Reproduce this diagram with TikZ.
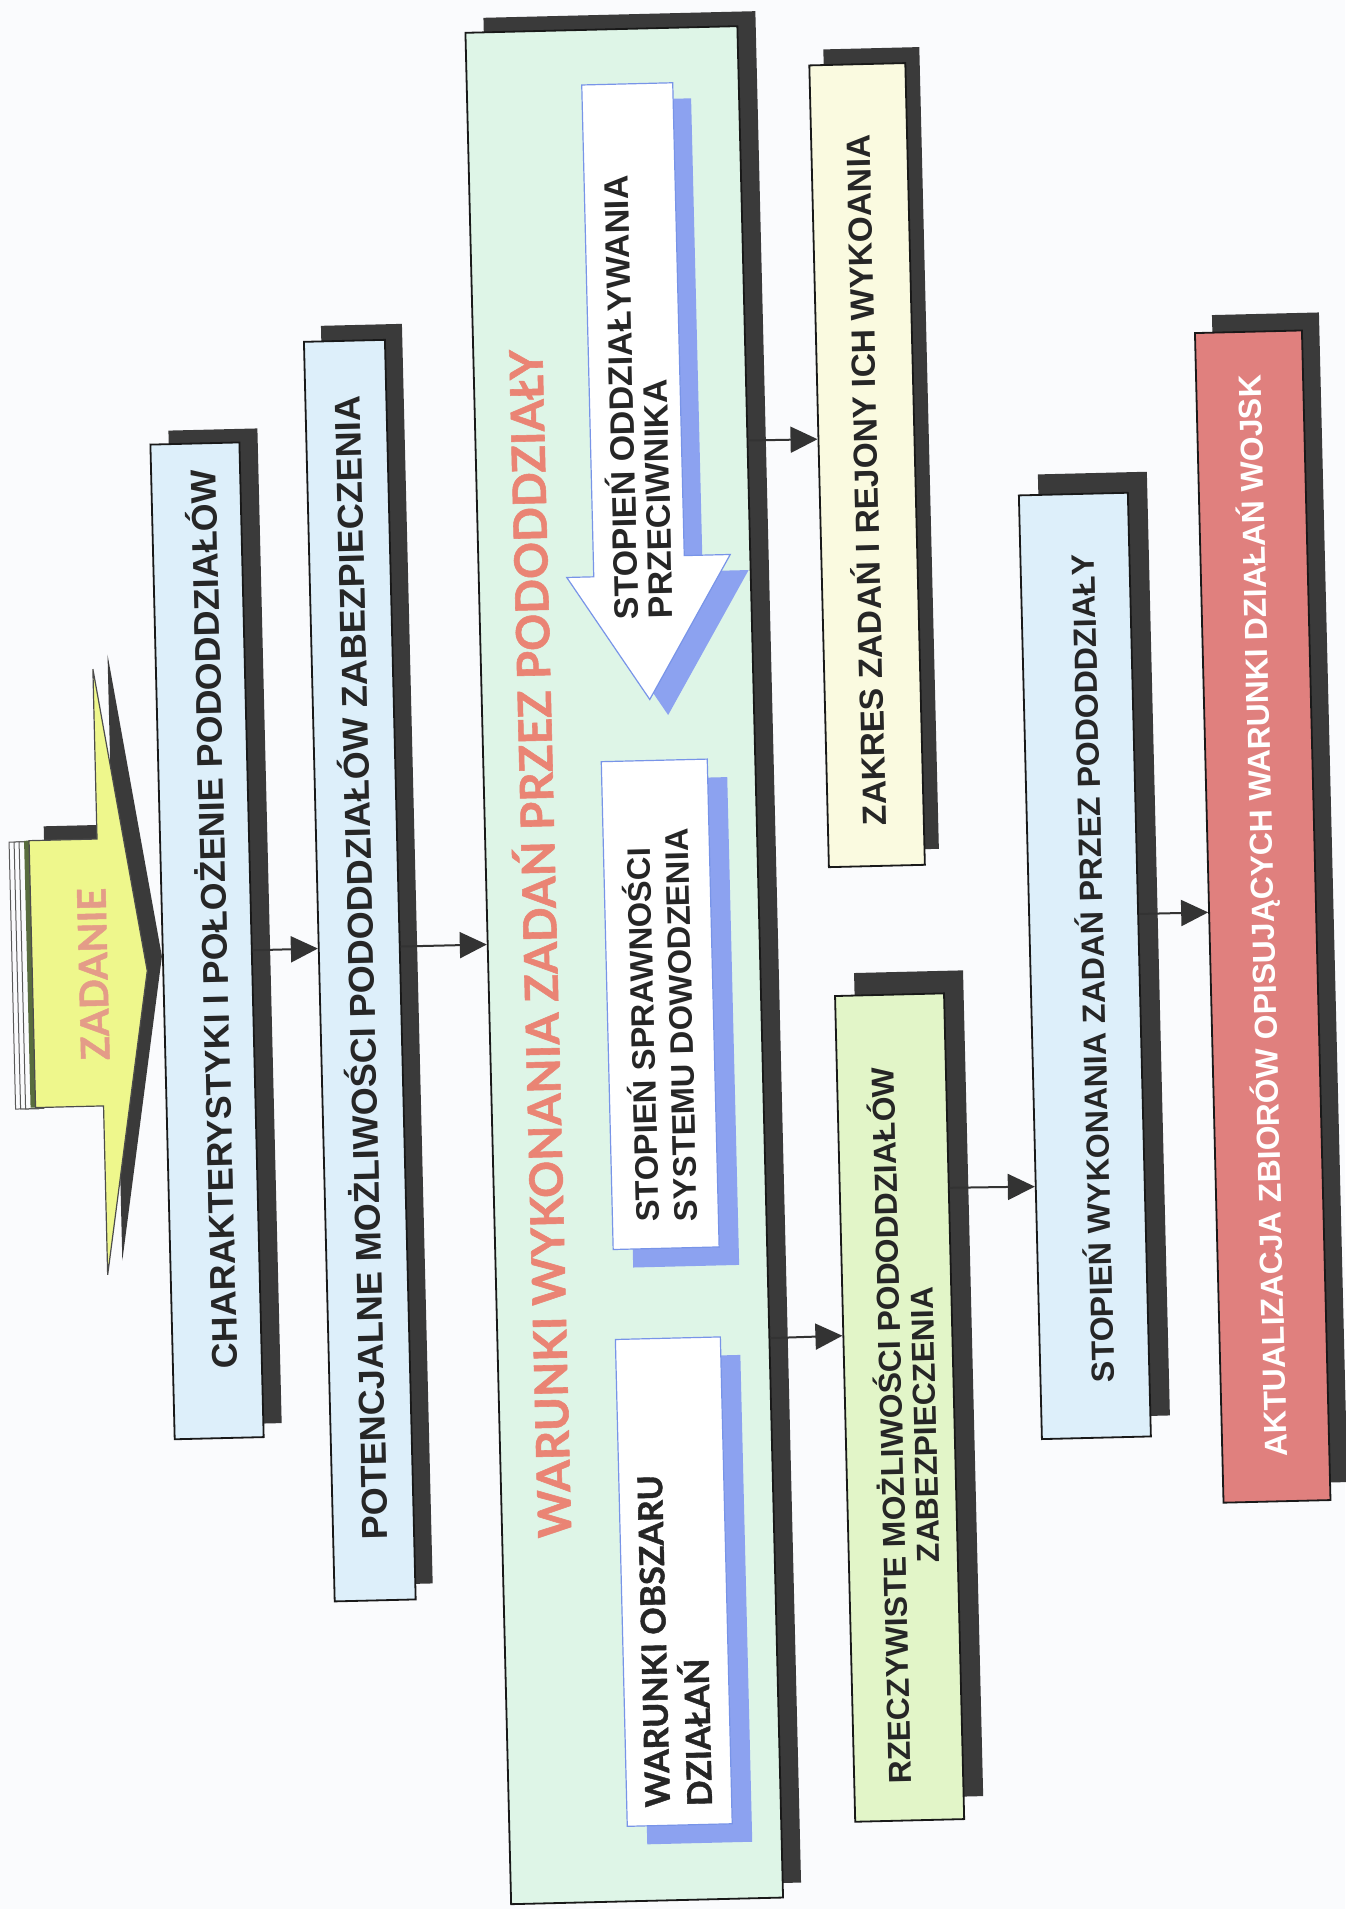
\documentclass[tikz,border=0pt]{standalone}
\usepackage{fontspec}
\usepackage{graphicx}
\usetikzlibrary{shadows,arrows.meta,calc}
\newfontfamily\boxfont{Liberation Sans}
\newfontfamily\gillfont[BoldFeatures={FakeBold=1.2}]{Lato}
\definecolor{pagebg}{RGB}{250,251,253}
\definecolor{shadowgrey}{RGB}{58,58,58}
\definecolor{ink}{RGB}{38,38,38}
\definecolor{skyfill}{RGB}{221,239,250}
\definecolor{mintfill}{RGB}{222,245,231}
\definecolor{creamfill}{RGB}{250,250,224}
\definecolor{leaffill}{RGB}{226,245,200}
\definecolor{rosefill}{RGB}{224,128,126}
\definecolor{lemon}{RGB}{238,247,140}
\definecolor{titlered}{RGB}{234,132,116}
\definecolor{zadink}{RGB}{228,156,136}
\definecolor{innerblue}{RGB}{140,162,240}
\definecolor{innerline}{RGB}{120,148,232}
\definecolor{stackgreen}{RGB}{88,108,62}
\begin{document}
\begin{tikzpicture}[x=0.5pt,y=-0.5pt,
  panel/.style={draw=black!90,line width=0.9pt,inner sep=0pt},
  dropdark/.style 2 args={drop shadow={shadow xshift=#1,shadow yshift=#2,fill=shadowgrey,opacity=1}},
  whitebox/.style={draw=innerline,line width=0.6pt,fill=white,inner sep=0pt,
    drop shadow={shadow xshift=10pt,shadow yshift=-9pt,fill=innerblue,opacity=1}},
  boxtext/.style={rotate=90,inner sep=0pt,text=ink},
  link/.style={line width=1pt,draw=black!80,-{Triangle[length=13.5pt,width=13pt]}}]

% page
\fill[pagebg] (0,0) rectangle (1345,1909);
\useasboundingbox (0,0) rectangle (1345,1909);

\begin{scope}[rotate around={1.4:(672,955)},transform shape]

% ---- ZADANIE arrow with stacked sheets behind it
\foreach \k in {12,17,22}
  \draw[black!65,line width=0.5pt,fill=pagebg] (\k,826) rectangle (40,1093);
\fill[stackgreen] (27,825) rectangle (33,1092);
\fill[shadowgrey,shift={(15,-14)}] (32,825) -- (100,825) -- (100,655) -- (147,958)
  -- (100,1261) -- (100,1092) -- (32,1092) -- cycle;
\draw[black!70,line width=0.6pt,fill=lemon] (32,825) -- (100,825) -- (100,655) -- (147,958)
  -- (100,1261) -- (100,1092) -- (32,1092) -- cycle;
\node[boxtext,text=zadink] (tZad) at (93,960)
  {\resizebox{86pt}{!}{\gillfont\bfseries ZADANIE}};

% ---- main boxes
\node[panel,fill=skyfill,dropdark={9pt}{7pt},minimum width=44.5pt,minimum height=497.5pt] (char) at (207.5,929.5) {};
\node[panel,fill=skyfill,dropdark={8.5pt}{8pt},minimum width=40.5pt,minimum height=630pt] (pot) at (359.5,963) {};
\node[panel,fill=mintfill,dropdark={9pt}{7.5pt},minimum width=136pt,minimum height=936pt] (cond) at (624,964) {};
\node[panel,fill=creamfill,dropdark={7pt}{8pt},minimum width=48pt,minimum height=401pt] (zak) at (879,470) {};
\node[panel,fill=leaffill,dropdark={9.5pt}{11.5pt},minimum width=54.5pt,minimum height=413pt] (real) at (888.5,1413) {};
\node[panel,fill=skyfill,dropdark={9.5pt}{10.5pt},minimum width=54.5pt,minimum height=472pt] (degree) at (1084.5,976) {};
\node[panel,fill=rosefill,dropdark={8.5pt}{9pt},minimum width=53.5pt,minimum height=585pt] (update) at (1263.5,931) {};

% ---- inner elements of the conditions box
\fill[innerblue,shift={(18,16)}] (603,83) -- (694,83) -- (694,556) -- (740,556)
  -- (656,699) -- (576,575) -- (603,575) -- cycle;
\draw[innerline,line width=0.6pt,fill=white] (603,83) -- (694,83) -- (694,556) -- (740,556)
  -- (656,699) -- (576,575) -- (603,575) -- cycle;
\node[whitebox,minimum width=53pt,minimum height=244pt] (command) at (659,1004) {};
\node[whitebox,minimum width=52.5pt,minimum height=243.5pt] (area) at (658.5,1581.5) {};

% ---- texts
\node[boxtext] (tChar) at (212,908)
  {\resizebox{449.5pt}{!}{\boxfont\bfseries CHARAKTERYSTYKI I POŁOŻENIE PODODDZIAŁÓW}};
\node[boxtext] (tPot) at (358,960)
  {\resizebox{572pt}{!}{\boxfont\bfseries POTENCJALNE MOŻLIWOŚCI PODODDZIAŁÓW ZABEZPIECZENIA}};
\node[boxtext,text=titlered] (tCond) at (536,941)
  {\resizebox{594pt}{!}{\gillfont\bfseries WARUNKI WYKONANIA ZADAŃ PRZEZ PODODDZIAŁY}};
\node[boxtext,anchor=west] (tEnemy) at (654,619)
  {\resizebox{222pt}{!}{\boxfont\bfseries\fontsize{10pt}{10.1pt}\selectfont
   \begin{tabular}{@{}l@{}}STOPIEŃ ODDZIAŁYWANIA\\PRZECIWNIKA\end{tabular}}};
\node[boxtext,anchor=west] (tCommand) at (663,1222)
  {\resizebox{196.5pt}{!}{\boxfont\bfseries\fontsize{10pt}{11.7pt}\selectfont
   \begin{tabular}{@{}l@{}}STOPIEŃ SPRAWNOŚCI\\SYSTEMU DOWODZENIA\end{tabular}}};
\node[boxtext,anchor=west] (tArea) at (663,1807)
  {\resizebox{166pt}{!}{\gillfont\bfseries\fontsize{10pt}{10.2pt}\selectfont
   \begin{tabular}{@{}l@{}}WARUNKI OBSZARU\\DZIAŁAŃ\end{tabular}}};
\node[boxtext] (tZak) at (875,485)
  {\resizebox{345.5pt}{!}{\boxfont\bfseries ZAKRES ZADAŃ I REJONY ICH WYKOANIA}};
\node[boxtext] (tReal) at (899,1431)
  {\resizebox{358.5pt}{!}{\boxfont\bfseries\fontsize{10pt}{10.6pt}\selectfont
   \begin{tabular}{@{}c@{}}RZECZYWISTE MOŻLIWOŚCI PODODDZIAŁÓW\\ZABEZPIECZENIA\end{tabular}}};
\node[boxtext] (tDegree) at (1090,979)
  {\resizebox{414pt}{!}{\boxfont\bfseries STOPIEŃ WYKONANIA ZADAŃ PRZEZ PODODDZIAŁY}};
\node[boxtext,text=white] (tUpdate) at (1264,930.5)
  {\resizebox{541pt}{!}{\boxfont\bfseries AKTUALIZACJA ZBIORÓW OPISUJĄCYCH WARUNKI DZIAŁAŃ WOJSK}};

% ---- connectors
\draw[link] ($(char.north east)!0.5106!(char.south east)$) -- ($(pot.north west)!0.4817!(pot.south west)$);
\draw[link] ($(pot.north east)!0.4817!(pot.south east)$) -- ($(cond.north west)!0.4872!(cond.south west)$);
\draw[link] ($(cond.north east)!0.2217!(cond.south east)$) -- ($(zak.north west)!0.4663!(zak.south west)$);
\draw[link] ($(cond.north east)!0.7009!(cond.south east)$) -- ($(real.north west)!0.4116!(real.south west)$);
\draw[link] ($(real.north east)!0.2361!(real.south east)$) -- ($(degree.north west)!0.732!(degree.south west)$);
\draw[link] ($(degree.north east)!0.4465!(degree.south east)$) -- ($(update.north west)!0.4953!(update.south west)$);

\end{scope}
\end{tikzpicture}
\end{document}
